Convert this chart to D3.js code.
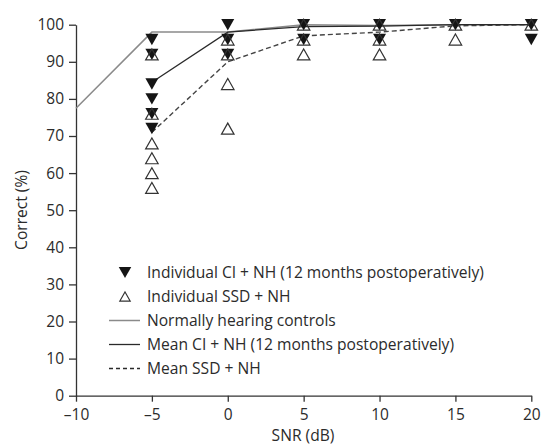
<!DOCTYPE html>
<html>
<head>
<meta charset="utf-8">
<script src="https://cdn.jsdelivr.net/npm/d3@7"></script>
<style>
  html, body { margin: 0; padding: 0; background: #fff; }
  svg { display: block; }
  text { font-family: "Open Sans", "Noto Sans", sans-serif; fill: #2b2b2b; }
</style>
</head>
<body>
<svg id="chart" width="541" height="446"></svg>
<script>
// ---- data ----
const snrLevels = [-10, -5, 0, 5, 10, 15, 20];
const xTicks = [-10, -5, 0, 5, 10, 15, 20];
const yTicks = [0, 10, 20, 30, 40, 50, 60, 70, 80, 90, 100];

// mean curves
const nhMeanX = [-10, -5, 0, 5, 10, 15, 20];
const nhMeanY = [77.5, 98, 98, 100, 99.8, 100, 100];
const ciMeanX = [-5, 0, 5, 10, 15, 20];
const ciMeanY = [84.5, 98, 99.5, 99.6, 100, 100];
const ssdMeanX = [-5, 0, 5, 10, 15, 20];
const ssdMeanY = [71, 90, 97, 98, 99.7, 100];

// individual CI + NH (x, y)
const ciIndX = [-5, -5, -5, -5, -5, -5, 0, 0, 0, 5, 5, 10, 10, 15, 20, 20];
const ciIndY = [96, 92, 84, 80, 76, 72, 100, 96, 92, 100, 96, 100, 96, 100, 100, 96];
// individual SSD + NH (x, y)
const ssdIndX = [-5, -5, -5, -5, -5, -5, 0, 0, 0, 0, 5, 5, 5, 10, 10, 10, 15, 15, 20];
const ssdIndY = [92, 76, 68, 64, 60, 56, 96, 92, 84, 72, 100, 96, 92, 100, 96, 92, 100, 96, 100];

const legendLabels = [
  "Individual CI + NH (12 months postoperatively)",
  "Individual SSD + NH",
  "Normally hearing controls",
  "Mean CI + NH (12 months postoperatively)",
  "Mean SSD + NH"
];
const xLabel = "SNR (dB)";
const yLabel = "Correct (%)";

// ---- drawing ----
const svg = d3.select("#chart");
const x = d3.scaleLinear().domain([-10, 20]).range([76, 531.3]);
const y = d3.scaleLinear().domain([0, 100]).range([395.7, 24.7]);

// bbox-centred triangles
const triDown = { draw(ctx, size) { const w = size / 2, h = size * 0.44;
  ctx.moveTo(-w, -h); ctx.lineTo(w, -h); ctx.lineTo(0, h); ctx.closePath(); } };
const triUp = { draw(ctx, size) { const w = size / 2, h = size * 0.44;
  ctx.moveTo(-w, h); ctx.lineTo(w, h); ctx.lineTo(0, -h); ctx.closePath(); } };

// axes
const xAxis = d3.axisBottom(x).tickValues(xTicks).tickSize(6).tickSizeOuter(0)
  .tickFormat(d => d < 0 ? "\u2013" + Math.abs(d) : d);
const yAxis = d3.axisLeft(y).tickValues(yTicks).tickSize(7).tickSizeOuter(0);

const gx = svg.append("g").attr("transform", `translate(0,${y(0)})`).call(xAxis);
const gy = svg.append("g").attr("transform", `translate(${x(-10)},0)`).call(yAxis);
[gx, gy].forEach(g => {
  g.selectAll("path.domain").attr("stroke", "#333").attr("stroke-width", 1.3);
  g.selectAll(".tick line").attr("stroke", "#333").attr("stroke-width", 1.3);
  g.selectAll(".tick text").style("font-family", '"Open Sans", sans-serif')
    .style("font-size", "15.5px").attr("fill", "#2b2b2b");
});
gx.selectAll(".tick text").attr("dy", "0.71em").attr("y", 13);
gy.selectAll(".tick text").attr("x", -12);

// axis titles
svg.append("text").attr("x", 303).attr("y", 441).attr("text-anchor", "middle")
  .style("font-size", "15.6px").text(xLabel);
svg.append("text").attr("transform", "translate(27,210) rotate(-90)")
  .attr("text-anchor", "middle").style("font-size", "15.6px").text(yLabel);

// lines
const line = d3.line().x(d => x(d[0])).y(d => y(d[1]));
svg.append("path").datum(d3.zip(nhMeanX, nhMeanY)).attr("d", line)
  .attr("fill", "none").attr("stroke", "#8a8a8a").attr("stroke-width", 1.5);
svg.append("path").datum(d3.zip(ssdMeanX, ssdMeanY)).attr("d", line)
  .attr("fill", "none").attr("stroke", "#444").attr("stroke-width", 1.4)
  .attr("stroke-dasharray", "5,3");
svg.append("path").datum(d3.zip(ciMeanX, ciMeanY)).attr("d", line)
  .attr("fill", "none").attr("stroke", "#2a2a2a").attr("stroke-width", 1.3);

// individual markers
svg.append("g").selectAll("path").data(d3.zip(ciIndX, ciIndY)).join("path")
  .attr("transform", d => `translate(${x(d[0])},${y(d[1])})`)
  .attr("d", d3.symbol().type(triDown).size(13))
  .attr("fill", "#151515");
svg.append("g").selectAll("path").data(d3.zip(ssdIndX, ssdIndY)).join("path")
  .attr("transform", d => `translate(${x(d[0])},${y(d[1])})`)
  .attr("d", d3.symbol().type(triUp).size(12.5))
  .attr("fill", "none").attr("stroke", "#333").attr("stroke-width", 1.2);

// legend
const lg = svg.append("g");
const rowY = i => 272.5 + i * 24;
lg.append("path").attr("transform", `translate(125,${rowY(0)})`)
  .attr("d", d3.symbol().type(triDown).size(12.5)).attr("fill", "#151515");
lg.append("path").attr("transform", `translate(125,${rowY(1)})`)
  .attr("d", d3.symbol().type(triUp).size(10.5)).attr("fill", "none")
  .attr("stroke", "#333").attr("stroke-width", 1.1);
lg.append("line").attr("x1", 109).attr("x2", 140).attr("y1", rowY(2)).attr("y2", rowY(2))
  .attr("stroke", "#8a8a8a").attr("stroke-width", 1.5);
lg.append("line").attr("x1", 109).attr("x2", 140).attr("y1", rowY(3)).attr("y2", rowY(3))
  .attr("stroke", "#2a2a2a").attr("stroke-width", 1.3);
lg.append("line").attr("x1", 109).attr("x2", 140).attr("y1", rowY(4)).attr("y2", rowY(4))
  .attr("stroke", "#2a2a2a").attr("stroke-width", 1.3).attr("stroke-dasharray", "4,3");
lg.selectAll("text.lab").data(legendLabels).join("text").attr("class", "lab")
  .attr("x", 147).attr("y", (d, i) => rowY(i)).attr("dy", "0.35em")
  .style("font-size", "15.6px").text(d => d);
</script>
</body>
</html>
